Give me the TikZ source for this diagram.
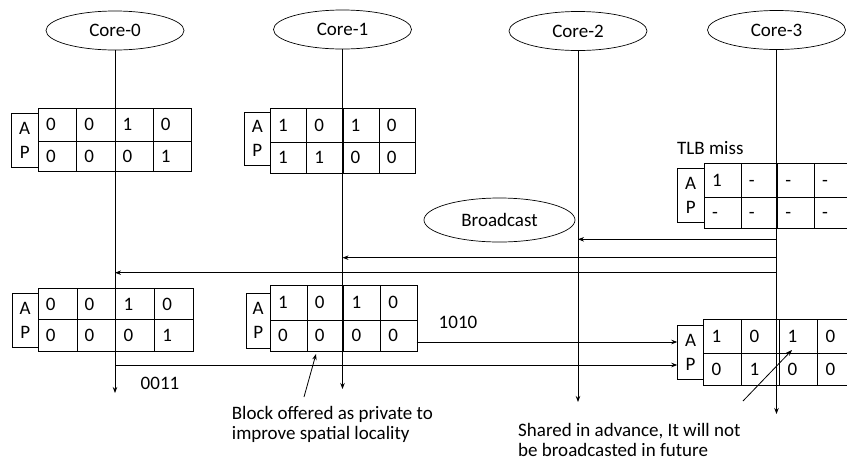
\documentclass[tikz,border=0pt]{standalone}
\usepackage{fontspec}
\setmainfont{Carlito}
\usetikzlibrary{shapes.geometric,arrows.meta}
\tikzset{
 core/.style={draw, ellipse, minimum width=138pt, minimum height=39pt, inner sep=0pt, line width=0.7pt, font=\fontsize{19}{22}\selectfont},
 cell/.style={draw, rectangle, inner sep=0pt, line width=0.7pt, anchor=north west},
 celltext/.style={anchor=base west, inner sep=0pt, xshift=8pt, yshift=-6pt, font=\fontsize{19}{22}\selectfont},
 apbox/.style={draw, rectangle, inner sep=0pt, line width=0.7pt, anchor=north west, align=center, font=\fontsize{19}{24}\selectfont},
 wire/.style={line width=0.8pt},
 arr/.style={wire, -{Stealth[length=6pt,width=4.5pt]}},
 lbl/.style={inner sep=0pt, font=\fontsize{19}{22}\selectfont},
 note/.style={align=left, anchor=north west, inner sep=0pt, font=\fontsize{19}{20}\selectfont},
}
\newcommand\tabrow[6]{%
  \foreach \v [count=\i] in {#6}{
    \node[cell, minimum width=#4pt, minimum height=#5pt] (#1-\i) at ({#2+(\i-1)*#4}, #3) {};
    \node[celltext] at (#1-\i.west) {\v};
  }}
\begin{document}
\begin{tikzpicture}[x=1pt, y=-1pt]
\useasboundingbox (0,0) rectangle (847,464);
% cores
\node[core] (c0) at (115,30.5) {Core-0};
\node[core] (c1) at (342.5,29.5) {Core-1};
\node[core] (c2) at (578,31) {Core-2};
\node[core] (c3) at (776.5,30) {Core-3};
% table 1
\node[apbox, minimum width=27.3pt, minimum height=54.6pt] (t1ap) at (10.7,112.7) {A\\P};
\tabrow{t1a}{38}{108}{38.25}{32.5}{0,0,1,0}
\tabrow{t1p}{38}{140.5}{38.25}{30.5}{0,0,0,1}
% table 2
\node[apbox, minimum width=26pt, minimum height=53.3pt] (t2ap) at (244,111.7) {A\\P};
\tabrow{t2a}{270}{107.5}{36.25}{34.5}{1,0,1,0}
\tabrow{t2p}{270}{142}{36.25}{31}{1,1,0,0}
% table 3
\node[lbl, anchor=west] (tlb) at (677,148) {TLB miss};
\node[apbox, minimum width=27.3pt, minimum height=53.4pt] (t3ap) at (676.7,168.3) {A\\P};
\tabrow{t3a}{704}{162.7}{36.6}{34}{1,-,-,-}
\tabrow{t3p}{704}{196.7}{36.6}{31}{-,-,-,-}
% table 4
\node[apbox, minimum width=25.7pt, minimum height=54pt] (t4ap) at (12,292.7) {A\\P};
\tabrow{t4a}{37.7}{288.3}{38.8}{31}{0,0,1,0}
\tabrow{t4p}{37.7}{319.3}{38.8}{31.4}{0,0,0,1}
% table 5
\node[apbox, minimum width=24.3pt, minimum height=54.4pt] (t5ap) at (245.7,293.3) {A\\P};
\tabrow{t5a}{270}{285}{36.7}{35}{1,0,1,0}
\tabrow{t5p}{270}{320}{36.7}{30.7}{0,0,0,0}
% table 6
\node[apbox, minimum width=26pt, minimum height=54.3pt] (t6ap) at (677.3,325) {A\\P};
\tabrow{t6a}{703.3}{319.3}{38}{34}{1,0,1,0}
\tabrow{t6p}{703.3}{353.3}{38}{31.7}{0,1,0,0}
% broadcast
\node[draw, ellipse, minimum width=151pt, minimum height=44pt, inner sep=0pt, line width=0.7pt, font=\fontsize{19}{22}\selectfont] (bc) at (499.5,220) {Broadcast};
% core lines
\coordinate (c0e) at (115,393);
\coordinate (c1e) at (342.5,389);
\coordinate (c2e) at (578,402);
\coordinate (c3e) at (776.5,414);
\draw[arr] (c0.south) -- (c0e);
\draw[arr] (c1.south) -- (c1e);
\draw[arr] (c2.south) -- (c2e);
\draw[arr] (c3.south) -- (c3e);
% broadcast arrows
\coordinate (b2) at (776.5,239.3);
\coordinate (b1) at (776.5,257.7);
\coordinate (b0) at (776.5,272.7);
\draw[arr] (b2) -- (c2.south |- b2);
\draw[arr] (b1) -- (c1.south |- b1);
\draw[arr] (b0) -- (c0.south |- b0);
% data lines
\coordinate (d1) at (416.7,342);
\coordinate (d2) at (115,365);
\draw[arr] (d1) -- (t6ap.west |- d1);
\draw[arr] (d2) -- (t6ap.west |- d2);
\node[lbl] (l1010) at (458,322) {1010};
\node[lbl] (l0011) at (160,383) {0011};
% notes
\coordinate (n1s) at (304,397);
\coordinate (n1e) at (316,354);
\draw[arr] (n1s) -- (n1e);
\coordinate (n2s) at (743,401);
\coordinate (n2e) at (792,350);
\draw[arr] (n2s) -- (n2e);
\node[note] (note1) at (231.7,406) {Block offered as private to\\improve spatial locality};
\node[note] (note2) at (518,423) {Shared in advance, It will not\\be broadcasted in future};
\end{tikzpicture}
\end{document}
